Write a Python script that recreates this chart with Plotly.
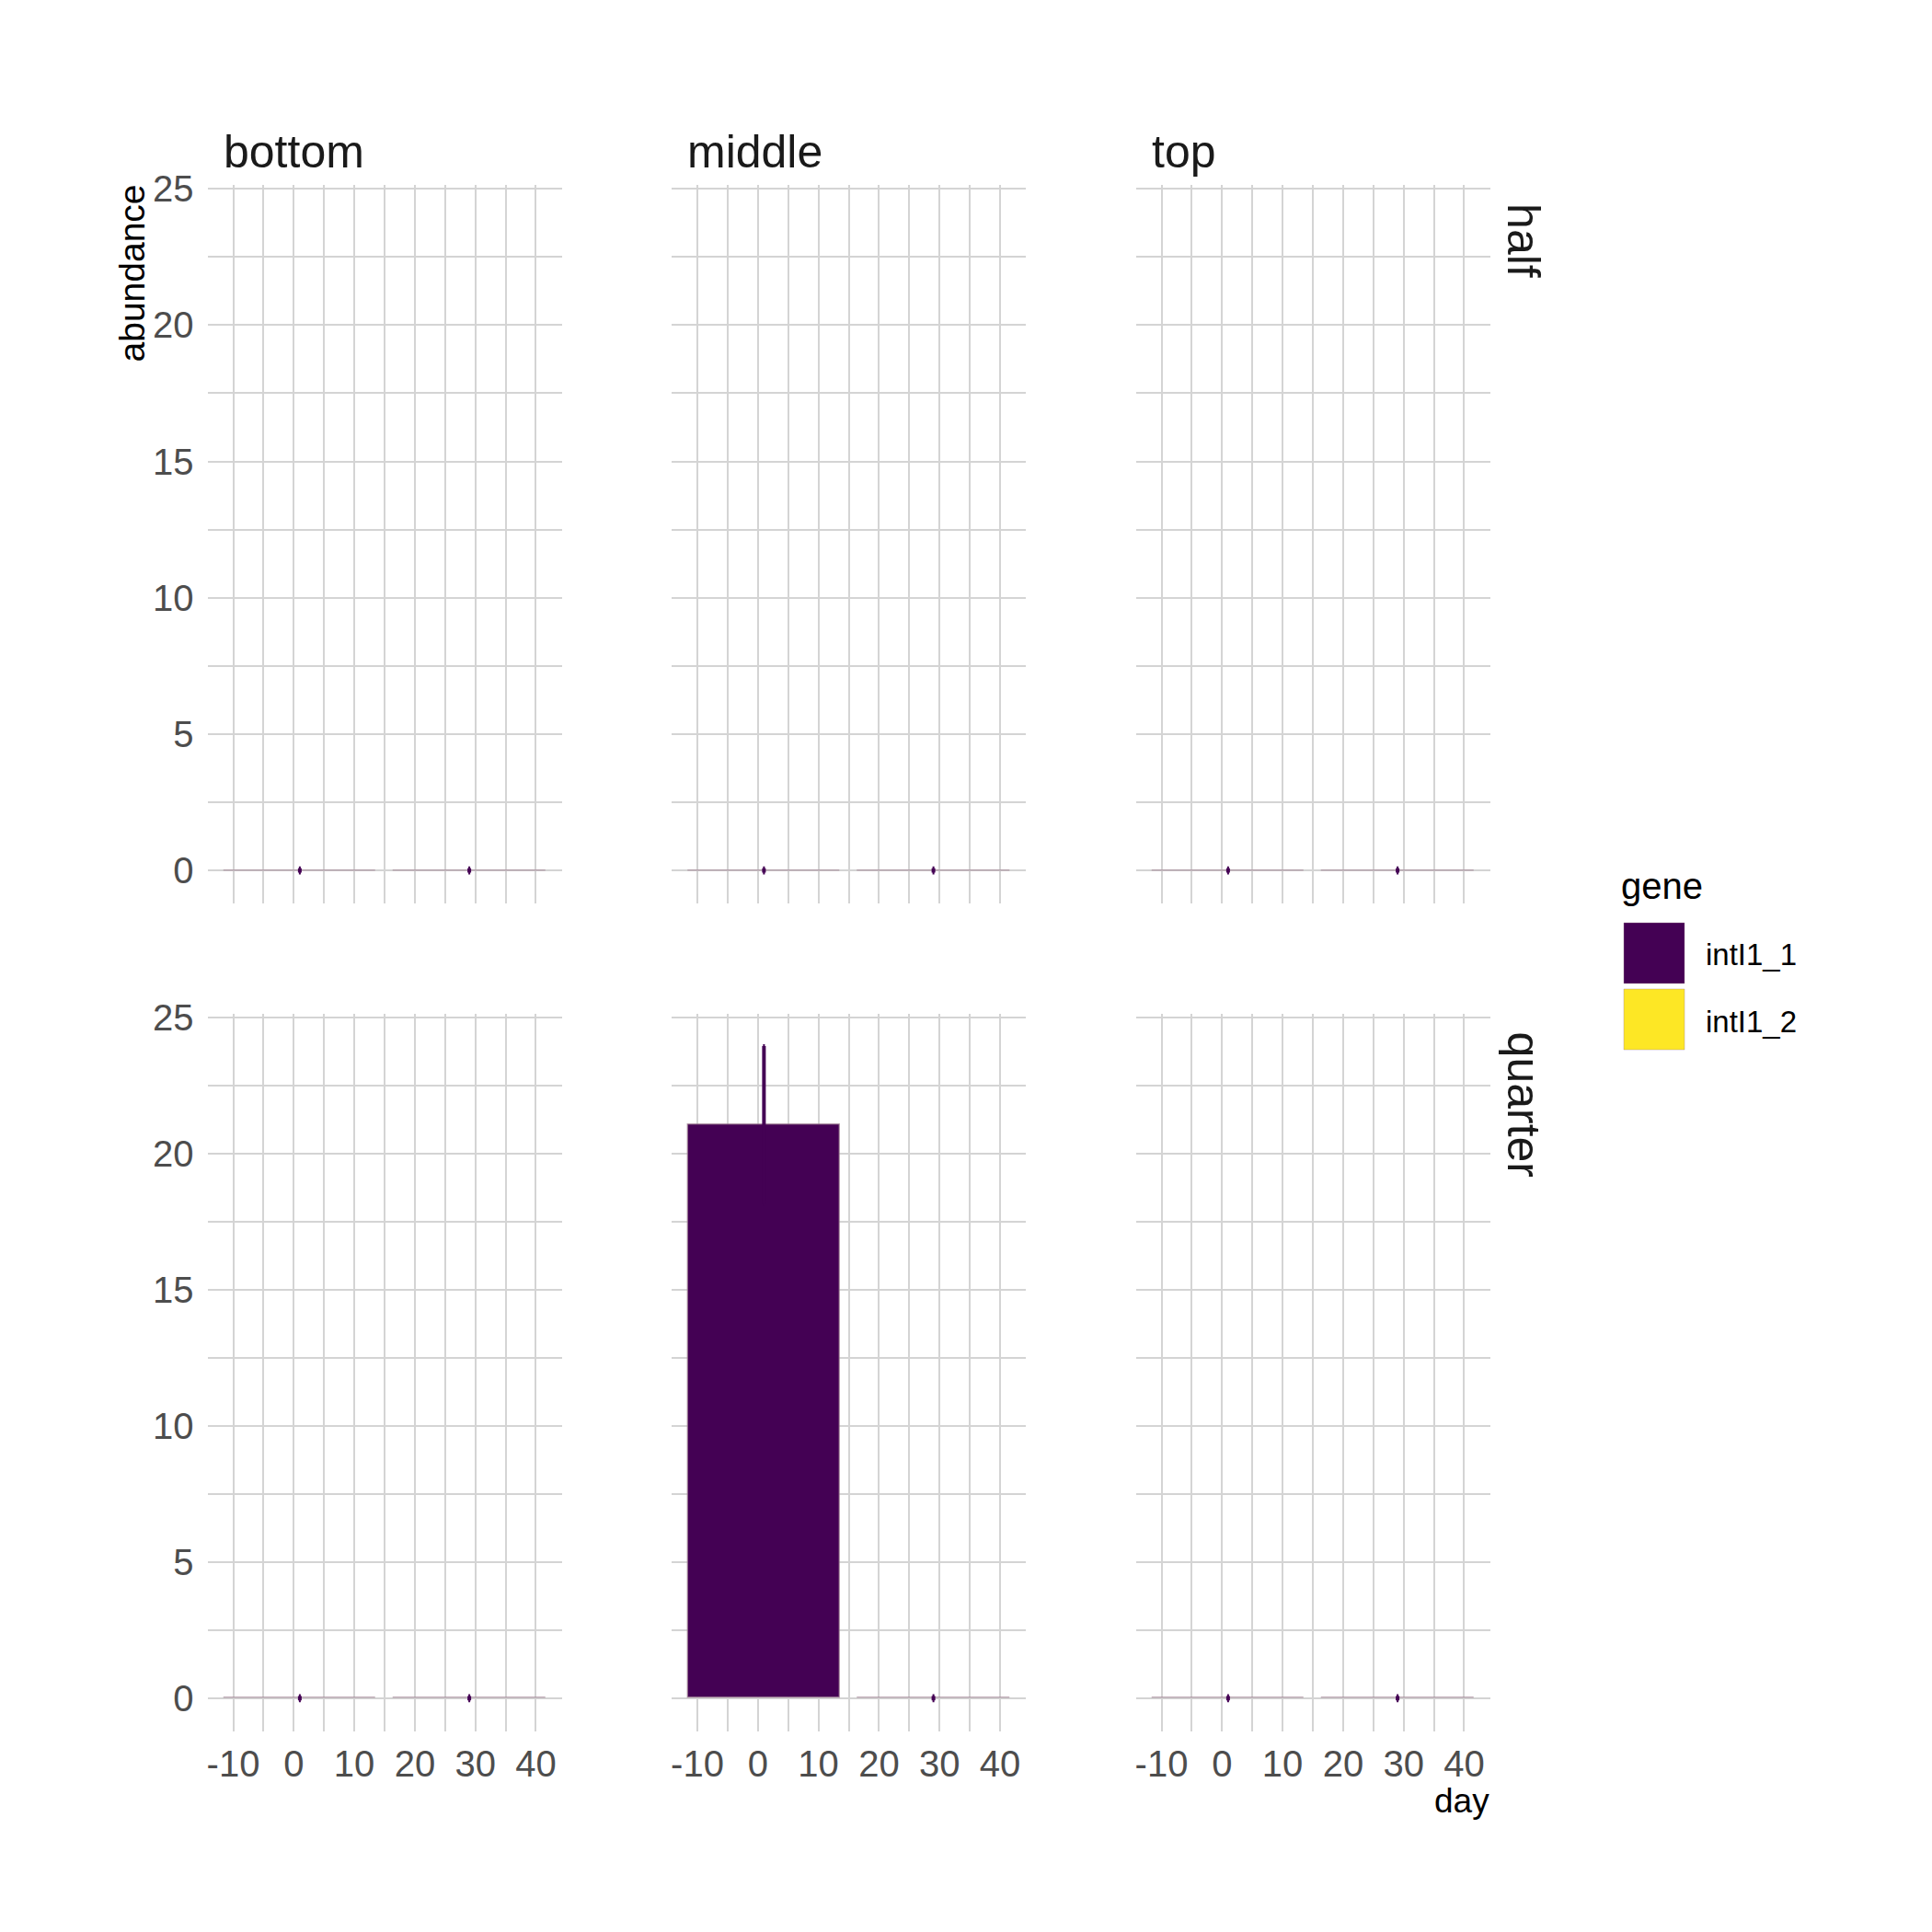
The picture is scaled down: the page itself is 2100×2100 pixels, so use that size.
import plotly.graph_objects as go

# ---------------- data ----------------
row_levels = ["half", "quarter"]
col_levels = ["bottom", "middle", "top"]
gene_levels = ["intI1_1", "intI1_2"]
days = [1, 29]

# mean abundance of intI1_1 at days 1 and 29, per column (bottom, middle, top)
half_mean = [[0.01, 0.01], [0.01, 0.01], [0.01, 0.01]]
half_err = [[0.08, 0.08], [0.08, 0.08], [0.08, 0.08]]
quarter_mean = [[0.01, 0.01], [21.05, 0.01], [0.01, 0.01]]
quarter_err = [[0.08, 0.08], [2.9, 0.08], [0.08, 0.08]]

x_ticks = [-10, 0, 10, 20, 30, 40]
y_ticks = [0, 5, 10, 15, 20, 25]

gene_colors = ["#440154", "#FDE725"]

# ---------------- layout helpers ----------------
W = H = 2100
FONT = "Liberation Sans"


def px_x(p):
    return p / W


def px_y(p):
    return 1 - p / H


col_px = [(225.5, 610.5), (730.0, 1115.0), (1234.5, 1619.5)]
row_px = [(200.6, 982.0), (1101.6, 1881.6)]

BAR_WIDTH = 25.2
GRID = "#d4d4d4"
OUTLINE = "rgba(165,135,150,0.65)"

fig = go.Figure()
layout = dict(
    width=W, height=H, autosize=False,
    margin=dict(l=0, r=0, t=0, b=0, pad=0),
    paper_bgcolor="white", plot_bgcolor="white",
    showlegend=False, bargap=0,
    barmode="overlay",
)

means = [half_mean, quarter_mean]
errs = [half_err, quarter_err]

annotations = []
shapes = []

for r in range(2):
    for c in range(3):
        i = r * 3 + c + 1
        xa = "x" if i == 1 else f"x{i}"
        ya = "y" if i == 1 else f"y{i}"
        fig.add_trace(go.Bar(
            x=days, y=means[r][c], width=BAR_WIDTH,
            xaxis=xa, yaxis=ya,
            marker=dict(color=gene_colors[0],
                        line=dict(color=OUTLINE, width=1.5)),
            error_y=dict(type="data", array=errs[r][c], visible=True,
                         color=gene_colors[0], thickness=4, width=1),
            name=gene_levels[0],
        ))
        xk = "xaxis" if i == 1 else f"xaxis{i}"
        yk = "yaxis" if i == 1 else f"yaxis{i}"
        layout[xk] = dict(
            domain=[px_x(col_px[c][0]), px_x(col_px[c][1])],
            anchor=ya, range=[-14.26, 44.26], automargin=False,
            tickmode="array", tickvals=x_ticks, ticktext=[str(t) for t in x_ticks],
            showticklabels=(r == 1), ticks="", ticklabelstandoff=8,
            tickfont=dict(family=FONT, size=40, color="#4D4D4D"),
            showgrid=True, gridcolor=GRID, gridwidth=2,
            minor=dict(tickmode="linear", tick0=-5, dtick=10, showgrid=True,
                       gridcolor=GRID, gridwidth=2),
            zeroline=False, showline=False, fixedrange=True,
        )
        layout[yk] = dict(
            domain=[px_y(row_px[r][1]), px_y(row_px[r][0])],
            anchor=xa, range=[-1.2, 25.15], automargin=False,
            tickmode="array", tickvals=y_ticks, ticktext=[str(t) for t in y_ticks],
            showticklabels=(c == 0), ticks="", ticklabelstandoff=14,
            tickfont=dict(family=FONT, size=40, color="#4D4D4D"),
            showgrid=True, gridcolor=GRID, gridwidth=2,
            minor=dict(tickmode="linear", tick0=2.5, dtick=5, showgrid=True,
                       gridcolor=GRID, gridwidth=2),
            zeroline=False, showline=False, fixedrange=True,
        )

# column strips
for c, lab in enumerate(col_levels):
    annotations.append(dict(
        text=lab, xref="paper", yref="paper",
        x=px_x(col_px[c][0] + 15), y=px_y(165), xanchor="left", yanchor="middle",
        showarrow=False, font=dict(family=FONT, size=50, color="#1A1A1A"),
    ))
# row strips
for r, lab in enumerate(row_levels):
    annotations.append(dict(
        text=lab, xref="paper", yref="paper",
        x=px_x(1656), y=px_y(row_px[r][0] + 18), xanchor="center", yanchor="top",
        textangle=90, showarrow=False,
        font=dict(family=FONT, size=50, color="#1A1A1A"),
    ))
# axis titles
annotations.append(dict(
    text="abundance", xref="paper", yref="paper",
    x=px_x(143), y=px_y(199), xanchor="center", yanchor="top",
    textangle=-90, showarrow=False, font=dict(family=FONT, size=39, color="black"),
))
annotations.append(dict(
    text="day", xref="paper", yref="paper",
    x=px_x(1621), y=px_y(1957), xanchor="right", yanchor="middle",
    showarrow=False, font=dict(family=FONT, size=37, color="black"),
))
# legend (manual)
annotations.append(dict(
    text="gene", xref="paper", yref="paper",
    x=px_x(1760), y=px_y(963), xanchor="left", yanchor="middle",
    showarrow=False, font=dict(family=FONT, size=40, color="black"),
))
key_tops = [1003, 1075]
for k, g in enumerate(gene_levels):
    shapes.append(dict(
        type="rect", xref="paper", yref="paper",
        x0=px_x(1765), x1=px_x(1831), y0=px_y(key_tops[k] + 66), y1=px_y(key_tops[k]),
        fillcolor=gene_colors[k], line=dict(color="rgba(165,135,150,0.4)", width=1),
    ))
    annotations.append(dict(
        text=g, xref="paper", yref="paper",
        x=px_x(1852), y=px_y(key_tops[k] + 35), xanchor="left", yanchor="middle",
        showarrow=False, font=dict(family=FONT, size=33, color="black"),
    ))

layout["annotations"] = annotations
layout["shapes"] = shapes
fig.update_layout(**layout)
fig.write_html("out.html")
